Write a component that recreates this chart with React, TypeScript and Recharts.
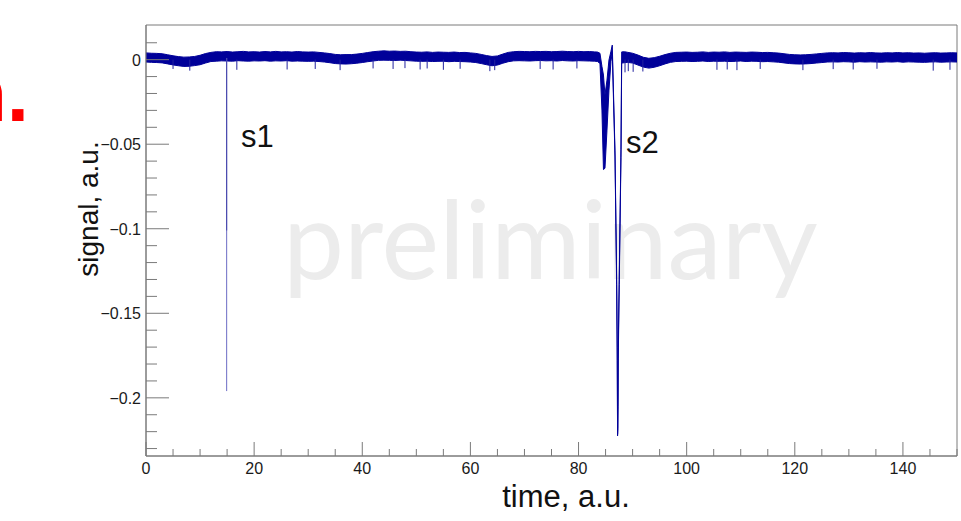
import React from 'react'
import { ComposedChart, Area, Line, XAxis, YAxis, ReferenceArea } from 'recharts'

// sampled envelope of the noisy trace (time in a.u.)
const time = [
  0, 1, 2, 3, 4, 5, 6, 7, 8, 9, 10, 11, 12, 13, 14, 15, 16, 17, 18, 19,
  20, 21, 22, 23, 24, 25, 26, 27, 28, 29, 30, 31, 32, 33, 34, 35, 36, 37, 38, 39,
  40, 41, 42, 43, 44, 45, 46, 47, 48, 49, 50, 51, 52, 53, 54, 55, 56, 57, 58, 59,
  60, 61, 62, 63, 64, 65, 66, 67, 68, 69, 70, 71, 72, 73, 74, 75, 76, 77, 78, 79,
  80, 81, 82, 83, 83.5, 83.96, 84.33, 84.61, 84.89, 85.26, 85.63, 86.0, 86.24,
  86.74, 87.05, 87.16, 87.22, 87.29, 87.35, 87.53, 87.85, 87.98, 88.5,
  89, 90, 91, 92, 93, 94, 95, 96, 97, 98, 99,
  100, 101, 102, 103, 104, 105, 106, 107, 108, 109, 110, 111, 112, 113, 114, 115, 116, 117, 118, 119,
  120, 121, 122, 123, 124, 125, 126, 127, 128, 129, 130, 131, 132, 133, 134, 135, 136, 137, 138, 139,
  140, 141, 142, 143, 144, 145, 146, 147, 148, 149, 150,
]

const upper = [
  0.0040, 0.0038, 0.0037, 0.0035, 0.0029, 0.0023, 0.0018, 0.0015, 0.0016, 0.0019, 0.0026, 0.0036, 0.0043, 0.0047, 0.0046, 0.0048, 0.0045, 0.0047, 0.0049, 0.0046,
  0.0047, 0.0045, 0.0048, 0.0046, 0.0049, 0.0046, 0.0047, 0.0045, 0.0048, 0.0046, 0.0045, 0.0046, 0.0043, 0.0040, 0.0036, 0.0031, 0.0029, 0.0030, 0.0030, 0.0033,
  0.0037, 0.0042, 0.0047, 0.0050, 0.0052, 0.0050, 0.0051, 0.0049, 0.0050, 0.0047, 0.0045, 0.0044, 0.0046, 0.0043, 0.0045, 0.0044, 0.0043, 0.0045, 0.0042, 0.0043,
  0.0040, 0.0037, 0.0031, 0.0024, 0.0019, 0.0022, 0.0033, 0.0043, 0.0047, 0.0049, 0.0048, 0.0047, 0.0049, 0.0048, 0.0049, 0.0047, 0.0048, 0.0050, 0.0048, 0.0047,
  0.0049, 0.0047, 0.0048, 0.0046, 0.0045, 0.0038, -0.0040, -0.0091, -0.0209, -0.0121, -0.0002, 0.0050, 0.0086,
  -0.0535, -0.1280, -0.1700, -0.2215, -0.2050, -0.1700, -0.1280, -0.0530, 0.0046, 0.0047,
  0.0044, 0.0038, 0.0027, 0.0014, 0.0008, 0.0012, 0.0020, 0.0030, 0.0038, 0.0043, 0.0044,
  0.0045, 0.0043, 0.0044, 0.0046, 0.0043, 0.0045, 0.0044, 0.0046, 0.0043, 0.0045, 0.0044, 0.0043, 0.0045, 0.0044, 0.0042, 0.0043, 0.0041, 0.0039, 0.0035, 0.0031,
  0.0029, 0.0028, 0.0029, 0.0031, 0.0034, 0.0037, 0.0040, 0.0041, 0.0040, 0.0042, 0.0041, 0.0039, 0.0041, 0.0040, 0.0042, 0.0040, 0.0039, 0.0041, 0.0040, 0.0042,
  0.0040, 0.0041, 0.0039, 0.0040, 0.0038, 0.0040, 0.0041, 0.0039, 0.0040, 0.0041, 0.0040,
]

const lower = [
  -0.0014, -0.0016, -0.0017, -0.0019, -0.0025, -0.0031, -0.0036, -0.0040, -0.0039, -0.0035, -0.0030, -0.0020, -0.0011, -0.0009, -0.0007, -0.0008, -0.0009, -0.0006, -0.0008, -0.0009,
  -0.0007, -0.0008, -0.0006, -0.0009, -0.0007, -0.0008, -0.0006, -0.0009, -0.0008, -0.0009, -0.0010, -0.0009, -0.0011, -0.0014, -0.0018, -0.0023, -0.0025, -0.0026, -0.0024, -0.0021,
  -0.0017, -0.0012, -0.0008, -0.0004, -0.0003, -0.0004, -0.0005, -0.0003, -0.0005, -0.0007, -0.0009, -0.0010, -0.0009, -0.0011, -0.0010, -0.0009, -0.0012, -0.0010, -0.0011, -0.0012,
  -0.0014, -0.0017, -0.0023, -0.0030, -0.0036, -0.0032, -0.0021, -0.0012, -0.0007, -0.0006, -0.0007, -0.0008, -0.0006, -0.0005, -0.0007, -0.0006, -0.0008, -0.0005, -0.0007, -0.0008,
  -0.0006, -0.0007, -0.0008, -0.0009, -0.0011, -0.0022, -0.0298, -0.0650, -0.0642, -0.0417, -0.0180, -0.0010, 0.0040,
  -0.0570, -0.1330, -0.1780, -0.2225, -0.2180, -0.1770, -0.1330, -0.0580, -0.0020, -0.0018,
  -0.0016, -0.0020, -0.0032, -0.0044, -0.0050, -0.0045, -0.0036, -0.0025, -0.0016, -0.0011, -0.0010,
  -0.0009, -0.0011, -0.0010, -0.0008, -0.0011, -0.0009, -0.0010, -0.0009, -0.0011, -0.0010, -0.0008, -0.0011, -0.0009, -0.0010, -0.0012, -0.0011, -0.0013, -0.0015, -0.0019, -0.0023,
  -0.0025, -0.0026, -0.0025, -0.0023, -0.0020, -0.0017, -0.0014, -0.0013, -0.0014, -0.0012, -0.0013, -0.0015, -0.0012, -0.0014, -0.0013, -0.0014, -0.0015, -0.0013, -0.0014, -0.0012,
  -0.0015, -0.0013, -0.0014, -0.0015, -0.0016, -0.0014, -0.0013, -0.0015, -0.0014, -0.0013, -0.0014,
]

// thin downward glitches below the noise band
const spikeTimes = [
  5.0, 8.1, 16.8, 26.1, 31.3, 35.9, 42.0, 45.7, 47.9, 50.7, 52.0, 55.0, 58.1, 63.6, 64.5, 72.9,
  75.3, 79.7, 88.6, 89.2, 90.1, 91.9, 105.6, 107.5, 109.3, 113.6, 121.5, 127.1, 130.8, 135.2, 145.6, 148.7,
]
const spikeDepths = [
  -0.0055, -0.0065, -0.0060, -0.0058, -0.0055, -0.0062, -0.0052, -0.0055, -0.0050, -0.0058, -0.0052, -0.0060, -0.0054, -0.0068, -0.0062, -0.0055,
  -0.0058, -0.0052, -0.0075, -0.0068, -0.0072, -0.0070, -0.0060, -0.0058, -0.0062, -0.0055, -0.0062, -0.0056, -0.0058, -0.0054, -0.0065, -0.0060,
]

// s1 pulse: single sample going down, then a second sample half way
const s1Time = [14.92, 14.92]
const s1Values = [0.001, -0.196]
const s1ReturnValues = [0.001, -0.101]

const xTicks = [0, 5, 10, 15, 20, 25, 30, 35, 40, 45, 50, 55, 60, 65, 70, 75, 80, 85, 90, 95, 100, 105, 110, 115, 120, 125, 130, 135, 140, 145, 150]
const xLabels = [0, 20, 40, 60, 80, 100, 120, 140]
const yTicks = [-0.23, -0.22, -0.21, -0.2, -0.19, -0.18, -0.17, -0.16, -0.15, -0.14, -0.13, -0.12, -0.11, -0.1, -0.09, -0.08, -0.07, -0.06, -0.05, -0.04, -0.03, -0.02, -0.01, 0, 0.01]
const yLabels: Record<string, string> = { '0': '0', '-0.05': '\u22120.05', '-0.1': '\u22120.1', '-0.15': '\u22120.15', '-0.2': '\u22120.2' }

const Y_MIN = -0.2344
const Y_MAX = 0.0205
const AXIS = '#7a7a7a'
const TRACE = '#000099'
const FONT = '"Liberation Sans", Arial, Helvetica, sans-serif'

const bandData = time.map((t, i) => ({ t, band: [lower[i], upper[i]] }))
const spikeData = spikeTimes.flatMap((t, i) => [
  { t, v: 0 },
  { t, v: spikeDepths[i] },
  { t, v: null },
])
const s1Data = s1Time.map((t, i) => ({ t, v: s1Values[i] }))
const s1ReturnData = s1Time.map((t, i) => ({ t, v: s1ReturnValues[i] }))

function XTick(props: any) {
  const { x, y, payload } = props
  const v = payload.value
  const major = xLabels.includes(v)
  return (
    <g>
      <line x1={x} y1={y} x2={x} y2={y - (major ? 14 : 7)} stroke={AXIS} strokeWidth={1} />
      {major && (
        <text x={x} y={y + 18} textAnchor="middle" fontSize={16} fill="#1a1a1a" fontFamily={FONT}>
          {v}
        </text>
      )}
    </g>
  )
}

function YTick(props: any) {
  const { x, y, payload } = props
  const key = String(payload.value)
  const label = yLabels[key]
  const major = label !== undefined
  return (
    <g>
      <line x1={x} y1={y} x2={x + (major ? 23 : 11)} y2={y} stroke={AXIS} strokeWidth={1} />
      {major && (
        <text x={x - 5} y={y + 6} textAnchor="end" fontSize={16} fill="#1a1a1a" fontFamily={FONT}>
          {label}
        </text>
      )}
    </g>
  )
}

export default function App() {
  return (
    <div style={{ position: 'absolute', left: 0, top: 0, width: 961, height: 521, background: '#fff', overflow: 'hidden' }}>
      {/* watermark sits behind the trace */}
      <svg width={961} height={521} style={{ position: 'absolute', left: 0, top: 0 }}>
        <text x={283} y={279} fontSize={109} fill="#ececec" fontFamily="Lato, 'Open Sans', sans-serif">
          preliminary
        </text>
      </svg>

      <div style={{ position: 'absolute', left: 0, top: 0 }}>
        <ComposedChart width={961} height={521} data={bandData} margin={{ top: 25, right: 4, bottom: 25, left: 86 }}>
          <XAxis
            dataKey="t"
            type="number"
            domain={[0, 150]}
            ticks={xTicks}
            interval={0}
            allowDataOverflow
            height={40}
            tickSize={0}
            tickMargin={0}
            tickLine={false}
            axisLine={{ stroke: AXIS }}
            tick={(p: any) => <XTick {...p} />}
          />
          <YAxis
            type="number"
            domain={[Y_MIN, Y_MAX]}
            ticks={yTicks}
            interval={0}
            allowDataOverflow
            width={60}
            tickSize={0}
            tickMargin={0}
            tickLine={false}
            axisLine={{ stroke: AXIS }}
            tick={(p: any) => <YTick {...p} />}
          />
          <ReferenceArea x1={0} x2={150} y1={Y_MIN} y2={Y_MAX} fill="none" stroke={AXIS} strokeWidth={1} />
          <Area
            dataKey="band"
            type="linear"
            stroke={TRACE}
            strokeWidth={1}
            fill={TRACE}
            fillOpacity={1}
            dot={false}
            activeDot={false}
            isAnimationActive={false}
          />
          <Line data={spikeData} dataKey="v" type="linear" stroke="#22229f" strokeWidth={1} dot={false} activeDot={false} connectNulls={false} isAnimationActive={false} />
          <Line data={s1Data} dataKey="v" type="linear" stroke="#6b6bc4" strokeWidth={1} dot={false} activeDot={false} isAnimationActive={false} />
          <Line data={s1ReturnData} dataKey="v" type="linear" stroke="#4343aa" strokeWidth={1} dot={false} activeDot={false} isAnimationActive={false} />
        </ComposedChart>
      </div>

      {/* labels and annotations */}
      <svg width={961} height={521} style={{ position: 'absolute', left: 0, top: 0, pointerEvents: 'none' }}>
        <text x={29} y={121} textAnchor="end" fontSize={80} fontWeight="bold" fill="#ff0000" fontFamily={FONT}>n.</text>
        <text x={241} y={147} fontSize={31} fill="#111" fontFamily={FONT}>s1</text>
        <text x={626} y={153} fontSize={31} fill="#111" fontFamily={FONT}>s2</text>
        <text transform="translate(98,209) rotate(-90)" textAnchor="middle" fontSize={28} fill="#111" fontFamily={FONT}>
          signal, a.u.
        </text>
        <text x={566} y={507} textAnchor="middle" fontSize={31} fill="#111" fontFamily={FONT}>
          time, a.u.
        </text>
      </svg>
    </div>
  )
}
